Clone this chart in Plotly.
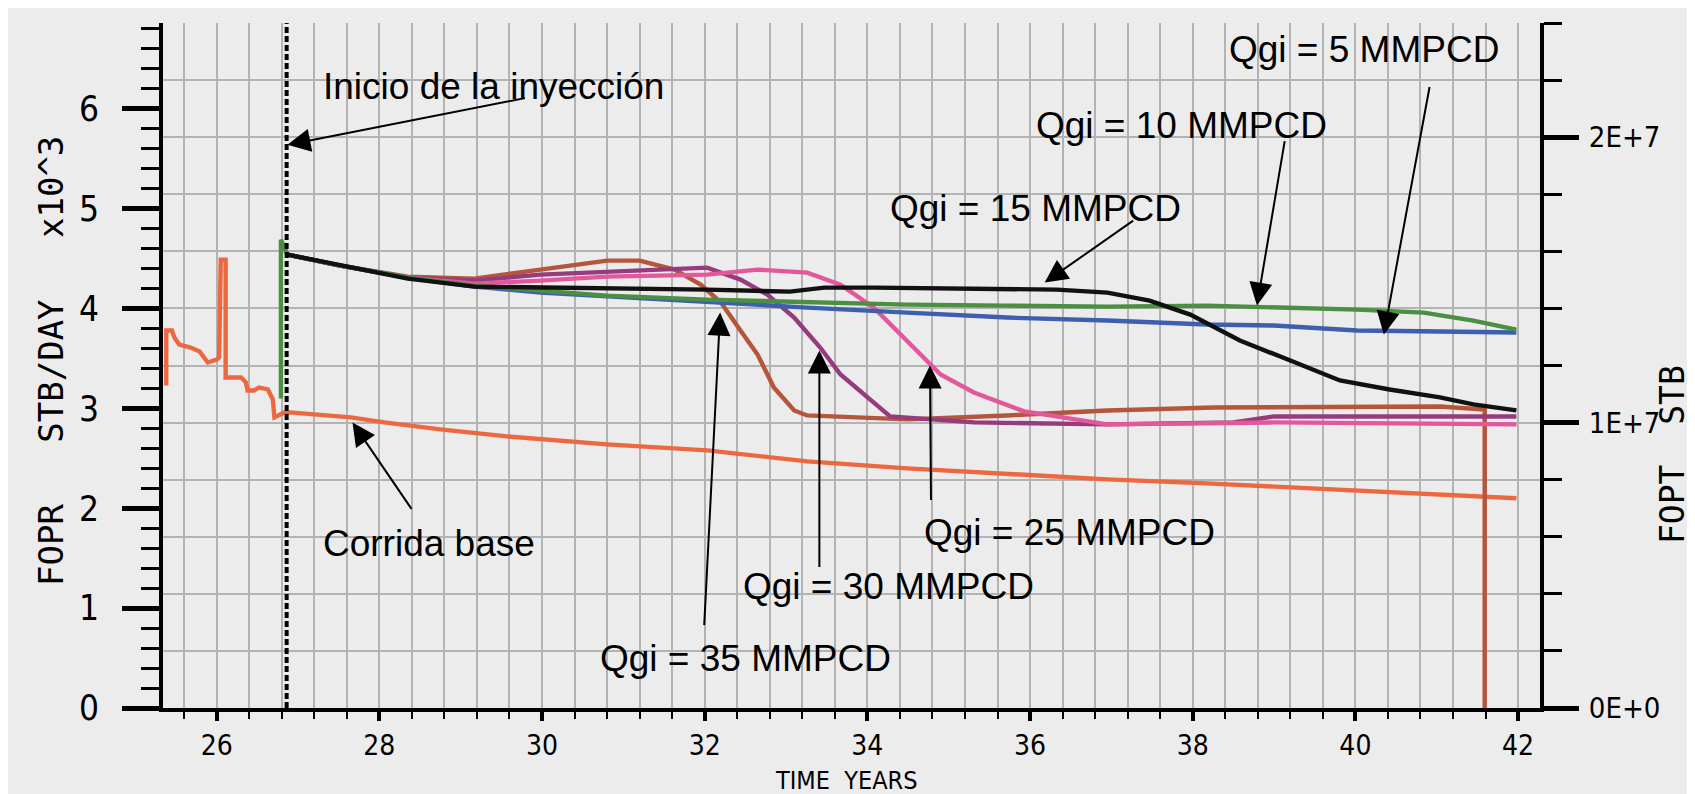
import plotly.graph_objects as go

# ---------------- data (TIME in years, FOPR in 10^3 STB/DAY) ----------------
base_t = [25.38, 25.38, 25.45, 25.48, 25.54, 25.68, 25.79, 25.85, 25.89, 26.00, 26.03, 26.05,
          26.11, 26.11, 26.30, 26.36, 26.38, 26.46, 26.52, 26.63, 26.69, 26.71, 26.83, 26.90,
          27.65, 28.06, 28.75, 29.57, 30.80, 32.03, 33.26, 34.49, 35.72, 36.95, 38.17, 39.40,
          40.63, 41.98]
base_v = [3.23, 3.78, 3.78, 3.71, 3.64, 3.61, 3.57, 3.51, 3.46, 3.49, 3.51, 4.49,
          4.49, 3.31, 3.31, 3.26, 3.18, 3.18, 3.21, 3.19, 3.09, 2.91, 2.96, 2.96,
          2.91, 2.86, 2.79, 2.72, 2.64, 2.58, 2.47, 2.40, 2.34, 2.29, 2.25, 2.20,
          2.15, 2.10]

q5_t = [26.79, 26.79, 26.87, 27.52, 28.35, 29.17, 29.98, 30.80, 32.03, 33.26, 34.49, 35.72,
        36.95, 38.17, 40.02, 40.84, 41.45, 41.98]
q5_v = [3.10, 4.69, 4.54, 4.43, 4.31, 4.23, 4.18, 4.13, 4.09, 4.06, 4.04, 4.03,
        4.02, 4.03, 3.99, 3.96, 3.88, 3.79]

q10_t = [26.87, 27.52, 28.35, 29.17, 29.98, 30.80, 32.03, 33.26, 34.49, 35.72, 36.95, 38.17,
         39.00, 40.02, 41.04, 41.98]
q10_v = [4.54, 4.43, 4.31, 4.22, 4.16, 4.12, 4.06, 4.01, 3.96, 3.91, 3.88, 3.84,
         3.83, 3.78, 3.77, 3.76]

q15_t = [26.87, 27.52, 28.35, 29.17, 29.98, 30.80, 32.03, 33.05, 33.47, 34.08, 36.33, 36.95,
         37.47, 37.97, 38.58, 39.20, 39.81, 40.42, 41.04, 41.45, 41.98]
q15_v = [4.54, 4.43, 4.30, 4.22, 4.21, 4.21, 4.19, 4.17, 4.21, 4.21, 4.19, 4.16,
         4.08, 3.94, 3.68, 3.48, 3.28, 3.19, 3.11, 3.04, 2.98]

q25_t = [26.87, 27.52, 28.35, 29.17, 29.98, 30.80, 32.03, 32.65, 33.26, 33.67, 34.08, 34.49,
         34.90, 35.31, 35.72, 35.93, 36.95, 39.00, 41.98]
q25_v = [4.54, 4.43, 4.31, 4.25, 4.28, 4.32, 4.34, 4.39, 4.36, 4.24, 4.01, 3.68,
         3.34, 3.16, 3.04, 2.97, 2.84, 2.86, 2.84]

q30_t = [26.87, 27.52, 28.35, 29.17, 29.98, 30.80, 32.03, 32.44, 32.77, 33.10, 33.42, 33.67,
         34.00, 34.28, 35.31, 36.95, 38.50, 39.00, 41.98]
q30_v = [4.54, 4.43, 4.31, 4.28, 4.34, 4.37, 4.41, 4.29, 4.14, 3.91, 3.61, 3.34,
         3.11, 2.92, 2.86, 2.84, 2.86, 2.92, 2.92]

q35_t = [26.87, 27.52, 28.35, 29.17, 29.98, 30.80, 31.20, 31.63, 31.95, 32.20, 32.44, 32.65,
         32.85, 33.10, 33.26, 34.49, 35.72, 36.95, 38.26, 41.04, 41.59, 41.59]
q35_v = [4.54, 4.43, 4.32, 4.30, 4.39, 4.48, 4.48, 4.39, 4.24, 4.06, 3.78, 3.54,
         3.21, 2.98, 2.93, 2.89, 2.93, 2.98, 3.01, 3.02, 2.99, 0.00]

INJ_START = 26.86

x_ticks = [26, 28, 30, 32, 34, 36, 38, 40, 42]
y_ticks = [0, 1, 2, 3, 4, 5, 6]
y2_ticks = [0, 1e7, 2e7]
y2_labels = ["0E+0", "1E+7", "2E+7"]

# ---------------- layout helpers ----------------
W, H = 1695, 794
L, R, T, B = 155, 163, 15, 94
PW, PH = W - L - R, H - T - B
X0, X1 = 25.34, 42.27
Y0, Y1 = 0.0, 6.86


def px(xp):
    return (xp - L) / PW


def py(yp):
    return (H - B - yp) / PH


GRID = "#b3b3b3"
BG = "#ececec"
TICKFONT = "DejaVu Sans Condensed, sans-serif"
MONO = "DejaVu Sans Mono, monospace"
ANNFONT = "Liberation Sans, Arial, sans-serif"

fig = go.Figure()

series = [
    (base_t, base_v, "#ec6840", "Corrida base"),
    (q35_t, q35_v, "#b5553c", "Qgi = 35"),
    (q30_t, q30_v, "#963c7e", "Qgi = 30"),
    (q25_t, q25_v, "#e2589a", "Qgi = 25"),
    (q10_t, q10_v, "#3d5fae", "Qgi = 10"),
    (q5_t, q5_v, "#4a8f42", "Qgi = 5"),
    (q15_t, q15_v, "#111111", "Qgi = 15"),
]
for t, v, c, n in series:
    fig.add_trace(go.Scatter(x=t, y=v, mode="lines", name=n,
                             line=dict(color=c, width=4.4), showlegend=False))

# attach right axis
fig.add_trace(go.Scatter(x=[], y=[], yaxis="y2", showlegend=False))

fig.add_shape(type="line", xref="x", yref="paper", x0=INJ_START, x1=INJ_START,
              y0=0, y1=1, line=dict(color="black", width=4, dash="6px,3px"),
              layer="above")

texts = [
    ("Inicio de la inyección", 313, 78),
    ("Qgi = 5 MMPCD", 1219, 41),
    ("Qgi = 10 MMPCD", 1026, 117),
    ("Qgi = 15 MMPCD", 880, 200),
    ("Qgi = 25 MMPCD", 914, 524),
    ("Qgi = 30 MMPCD", 733, 578),
    ("Qgi = 35 MMPCD", 590, 650),
    ("Corrida base", 313, 535),
]
for s, xl, yc in texts:
    fig.add_annotation(text=s, xref="paper", yref="paper", x=px(xl), y=py(yc),
                       xanchor="left", yanchor="middle", showarrow=False,
                       font=dict(family=ANNFONT, size=37, color="black"))

# arrows: head in data coords, tail offset in pixels
arrows = [
    (26.87, 5.64, 239, -47),
    (27.67, 2.86, 60, 88),
    (40.35, 3.74, 46, -249),
    (38.79, 4.03, 28, -166),
    (36.18, 4.26, 90, -63),
    (34.77, 3.43, 1, 136),
    (33.41, 3.58, 0, 218),
    (32.19, 3.96, -16, 314),
]
for hx, hy, ax, ay in arrows:
    fig.add_annotation(x=hx, y=hy, xref="x", yref="y", ax=ax, ay=ay, text="",
                       showarrow=True, arrowhead=2, arrowsize=2.3, arrowwidth=2,
                       arrowcolor="black")

# axis titles
fig.add_annotation(text="FOPR   STB/DAY   x10^3", xref="paper", yref="paper",
                   x=px(43), y=py(353), xanchor="center", yanchor="middle",
                   textangle=-90, showarrow=False,
                   font=dict(family=MONO, size=34, color="black"))
fig.add_annotation(text="FOPT  STB", xref="paper", yref="paper",
                   x=px(1664), y=py(447), xanchor="center", yanchor="middle",
                   textangle=-90, showarrow=False,
                   font=dict(family=MONO, size=33, color="black"))
fig.add_annotation(text="TIME  YEARS", xref="paper", yref="paper",
                   x=px(838), y=py(772), xanchor="center", yanchor="middle",
                   showarrow=False, borderpad=0,
                   font=dict(family=TICKFONT, size=25, color="black"))

fig.update_layout(
    width=W, height=H,
    margin=dict(l=L, r=R, t=T, b=B, pad=0),
    paper_bgcolor=BG, plot_bgcolor=BG,
    showlegend=False,
    xaxis=dict(range=[X0, X1], tickmode="array", tickvals=x_ticks,
               ticks="outside", ticklen=9, tickwidth=4, tickcolor="black",
               showline=True, linewidth=4, linecolor="black", zeroline=False,
               showgrid=True, gridcolor=GRID, gridwidth=2,
               tickfont=dict(family=TICKFONT, size=28, color="black"),
               minor=dict(tickmode="linear", tick0=26, dtick=0.4, ticks="outside",
                          ticklen=7, tickwidth=2, tickcolor="black",
                          showgrid=True, gridcolor=GRID, gridwidth=2)),
    yaxis=dict(range=[Y0, Y1], tickmode="array", tickvals=y_ticks,
               ticks="outside", ticklen=37, tickwidth=5, tickcolor="black",
               showline=True, linewidth=4, linecolor="black", zeroline=False,
               showgrid=False,
               tickfont=dict(family=TICKFONT, size=35, color="black"),
               ticklabelstandoff=16,
               minor=dict(tickmode="linear", tick0=0, dtick=0.2, ticks="outside",
                          ticklen=18, tickwidth=3, tickcolor="black", showgrid=False)),
    yaxis2=dict(overlaying="y", side="right", range=[0, 2.4e7],
                tickmode="array", tickvals=y2_ticks, ticktext=y2_labels,
                ticks="outside", ticklen=35, tickwidth=5, tickcolor="black",
                showline=True, linewidth=4, linecolor="black", zeroline=False,
                showgrid=True, gridcolor=GRID, gridwidth=2,
                tickfont=dict(family=TICKFONT, size=29, color="black"),
                ticklabelstandoff=4,
                minor=dict(tickmode="linear", tick0=0, dtick=2e6, ticks="outside",
                           ticklen=18, tickwidth=3, tickcolor="black",
                           showgrid=True, gridcolor=GRID, gridwidth=2)),
)

fig.write_html("out.html")
